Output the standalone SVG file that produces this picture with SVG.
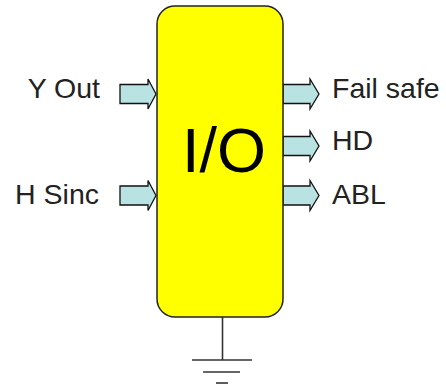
<svg xmlns="http://www.w3.org/2000/svg" width="446" height="387" viewBox="0 0 446 387">
<style>
.lbl{font-family:"Liberation Sans",Arial,sans-serif;font-size:28.5px;fill:#222}
.arr{fill:#B9E2E2;stroke:#111;stroke-width:1.3;stroke-linejoin:miter}
.gnd{stroke:#333;stroke-width:1.6;fill:none}
</style>
<rect width="446" height="387" fill="#fff"/>
<g id="connectors">
<polygon class="arr" points="120,84.5 148,84.5 148,79 156,94 148,109 148,103.5 120,103.5"/>
<polygon class="arr" points="120,186 148,186 148,180.5 156,195.5 148,210.5 148,205 120,205"/>
<polygon class="arr" points="283,84.5 310,84.5 310,79 319,94 310,109 310,103.5 283,103.5"/>
<polygon class="arr" points="283,136.5 310,136.5 310,131 319,146 310,161 310,155.5 283,155.5"/>
<polygon class="arr" points="283,186 310,186 310,180.5 319,195.5 310,210.5 310,205 283,205"/>
<line class="gnd" x1="222.5" y1="317" x2="222.5" y2="360"/>
<line class="gnd" x1="192" y1="360" x2="252" y2="360"/>
<line class="gnd" x1="203" y1="372" x2="240" y2="372"/>
<line class="gnd" x1="216" y1="383" x2="228" y2="383"/>
</g>
<g id="io">
<rect x="157" y="6" width="126" height="311" rx="18" ry="18" fill="#FFFF00" stroke="#222" stroke-width="1.5"/>
<text x="182" y="172" font-family="Liberation Sans,Arial,sans-serif" font-size="63" fill="#000">I/O</text>
</g>
<g id="y-out"><text class="lbl" x="100" y="98" text-anchor="end">Y Out</text></g>
<g id="h-sinc"><text class="lbl" x="99" y="204" text-anchor="end">H Sinc</text></g>
<g id="fail-safe"><text class="lbl" x="332" y="98">Fail safe</text></g>
<g id="hd"><text class="lbl" x="332" y="150">HD</text></g>
<g id="abl"><text class="lbl" x="332" y="204">ABL</text></g>
</svg>
